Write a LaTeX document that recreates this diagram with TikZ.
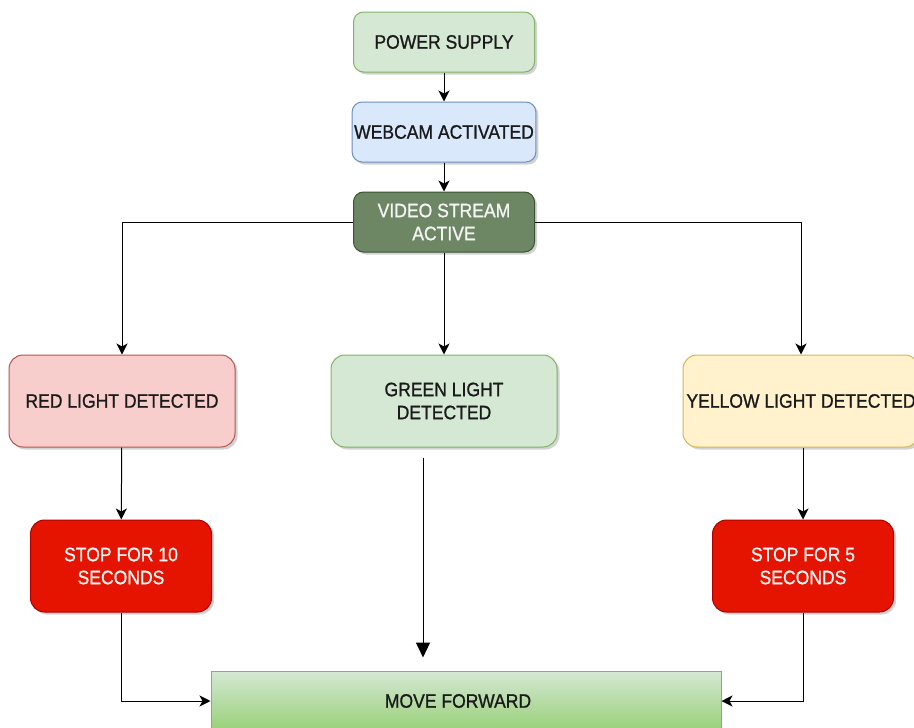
\documentclass[tikz,border=0pt]{standalone}
\usepackage{fontspec}
\setmainfont{Liberation Sans}[FakeStretch=0.9, FakeBold=1]
\usetikzlibrary{arrows.meta,shadows}

\definecolor{psfill}{HTML}{D5E8D4}
\definecolor{psline}{HTML}{82B366}
\definecolor{wcfill}{HTML}{DAE8FC}
\definecolor{wcline}{HTML}{6C8EBF}
\definecolor{vsfill}{HTML}{6D8764}
\definecolor{vsline}{HTML}{3A5431}
\definecolor{rlfill}{HTML}{F8CECC}
\definecolor{rlline}{HTML}{B85450}
\definecolor{ylfill}{HTML}{FFF2CC}
\definecolor{ylline}{HTML}{D6B656}
\definecolor{stfill}{HTML}{E51400}
\definecolor{stline}{HTML}{B20000}
\definecolor{mfbottom}{HTML}{97D077}
\definecolor{ink}{HTML}{1A1A1A}
\definecolor{paper}{HTML}{F4F4F4}

\tikzset{
  box/.style={draw, line width=1pt, rounded corners=10pt, align=center,
    text=ink, font=\fontsize{19.5}{23}\selectfont, inner sep=2pt,
    drop shadow={shadow xshift=2.5pt, shadow yshift=-2.5pt, opacity=0.35, fill=gray}},
  smallbox/.style={box, minimum width=181pt, minimum height=60pt},
  bigbox/.style={box, rounded corners=14pt, minimum width=226pt, minimum height=92pt},
  stopbox/.style={box, rounded corners=14pt, minimum width=181pt, minimum height=92pt,
    fill=stfill, draw=stline, text=paper},
  flow/.style={draw=black, line width=1pt,
    -{Stealth[length=11pt, width=11pt, inset=3pt]}},
  bigflow/.style={draw=black, line width=1pt,
    -{Triangle[length=15pt, width=14pt]}},
}

\begin{document}
\begin{tikzpicture}[x=1pt, y=-1pt]
  \clip (0,0) rectangle (914,728);
  \fill[white] (0,0) rectangle (914,728);

  % chain at the top
  \node[smallbox, fill=psfill, draw=psline] (ps) at (444,42) {POWER SUPPLY};
  \node[smallbox, fill=wcfill, draw=wcline] (wc) at (444,132) {WEBCAM ACTIVATED};
  \node[smallbox, fill=vsfill, draw=vsline, text=paper] (vs) at (444,222) {VIDEO STREAM\\ACTIVE};

  % detection states
  \node[bigbox, fill=rlfill, draw=rlline] (rl) at (122,401) {RED LIGHT DETECTED};
  \node[bigbox, fill=psfill, draw=psline] (gl) at (444,401) {GREEN LIGHT\\DETECTED};
  \node[bigbox, fill=ylfill, draw=ylline, minimum width=236pt] (yl) at (801,401) {YELLOW LIGHT DETECTED};

  % actions
  \node[stopbox] (s10) at (121,566) {STOP FOR 10\\SECONDS};
  \node[stopbox] (s5) at (803,566) {STOP FOR 5\\SECONDS};
  \node[draw=psline, line width=1pt, top color=psfill, bottom color=mfbottom,
        minimum width=510pt, minimum height=60pt, text=ink,
        font=\fontsize{19.5}{23}\selectfont] (mf) at (466,701) {\hspace*{-16pt}MOVE FORWARD};

  % connectors
  \draw[flow] (ps) -- (wc);
  \draw[flow] (wc) -- (vs);
  \draw[flow] (vs) -- (gl);
  \draw[flow] (vs.west) -| (rl.north);
  \draw[flow] (vs.east) -| (yl.north);
  \draw[flow] (rl) -- (s10);
  \draw[flow] (yl.south -| s5.north) -- (s5.north);
  \draw[flow] (s10.south) |- (mf.west);
  \draw[flow] (s5.south) |- (mf.east);
  \draw[bigflow] ([xshift=-21pt, yshift=-10pt]gl.south) -- ([xshift=-43pt, yshift=13pt]mf.north);
\end{tikzpicture}
\end{document}
